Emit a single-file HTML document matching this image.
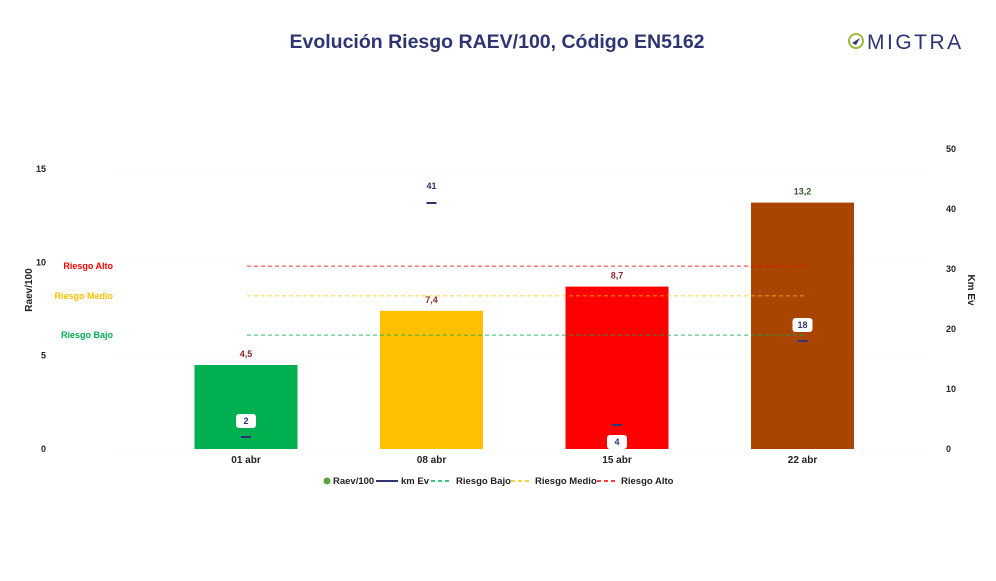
<!DOCTYPE html>
<html><head><meta charset="utf-8">
<style>
body{margin:0;background:#fff;font-family:"Liberation Sans","DejaVu Sans",sans-serif;}
svg text{font-family:"Liberation Sans","DejaVu Sans",sans-serif;}
</style></head>
<body>
<svg id="chart" width="996" height="576" viewBox="0 0 996 576" xmlns="http://www.w3.org/2000/svg">
<text x="497" y="48" text-anchor="middle" font-size="19.5" font-weight="bold" fill="#2e3572">Evolución Riesgo RAEV/100, Código EN5162</text>
<g>
<circle cx="856" cy="41" r="7" fill="none" stroke="#9cb83a" stroke-width="2"/>
<path d="M852 43 L860 38 L856 45 Z" fill="#2e3572"/>
<text x="867" y="49" font-size="21" fill="#2e3572" letter-spacing="2.5">MIGTRA</text>
</g>
<text x="32" y="290" font-size="10" font-weight="bold" fill="#222" transform="rotate(-90 32 290)" text-anchor="middle">Raev/100</text>
<text x="968" y="290" font-size="10" font-weight="bold" fill="#222" transform="rotate(90 968 290)" text-anchor="middle">Km Ev</text>
<g id="grid"></g><g id="bars"></g><g id="lines"></g><g id="marks"></g><g id="axes"></g>
<g font-size="9.5" font-weight="bold" fill="#222">
<g><circle cx="327" cy="481" r="3.5" fill="#5aa43a"/><text x="333" y="484">Raev/100</text></g>
<g><line x1="376" y1="481" x2="398" y2="481" stroke="#2e3572" stroke-width="2"/><text x="401" y="484">km Ev</text></g>
<g><line x1="431" y1="481" x2="452" y2="481" stroke="#00b050" stroke-width="1.5" stroke-dasharray="4 3"/><text x="456" y="484">Riesgo Bajo</text></g>
<g><line x1="511" y1="481" x2="531" y2="481" stroke="#ffc000" stroke-width="1.5" stroke-dasharray="4 3"/><text x="535" y="484">Riesgo Medio</text></g>
<g><line x1="597" y1="481" x2="617" y2="481" stroke="#ff0000" stroke-width="1.5" stroke-dasharray="4 3"/><text x="621" y="484">Riesgo Alto</text></g>
</g>
</svg>
<script>
const categories=["01 abr","08 abr","15 abr","22 abr"];
const raev=[4.5,7.4,8.7,13.2];
const raevLabels=["4,5","7,4","8,7","13,2"];
const barColors=["#00b050","#ffc000","#ff0000","#a94500"];
const kmEv=[2,41,4,18];
const leftTicks=[0,5,10,15];
const rightTicks=[0,10,20,30,40,50];
const riskNames=["Riesgo Bajo","Riesgo Medio","Riesgo Alto"];
const riskValues=[6.1,8.2,9.8];
const riskColors=["#00b050","#ffc000","#ff0000"];

const NS="http://www.w3.org/2000/svg";
const y0=449;
const yL=v=>y0-v*(280/15);
const yR=v=>y0-v*6;
const xC=i=>246+i*185.5;
const bw=103;
function mk(tag,attrs,parent,txt){const e=document.createElementNS(NS,tag);for(const k in attrs)e.setAttribute(k,attrs[k]);if(txt!==undefined)e.textContent=txt;document.getElementById(parent).appendChild(e);return e;}

leftTicks.forEach(t=>{
 const g=mk('line',{x1:115,x2:930,y1:yL(t),y2:yL(t),stroke:'#f0f0f0','stroke-width':1,'stroke-dasharray':'1 3'},'grid');
 
 
 const e=mk('text',{x:46,y:yL(t)+3,'font-size':9,'font-weight':'bold','text-anchor':'end',fill:'#222'},'axes',String(t));
 
 
});
rightTicks.forEach(t=>{
 const e=mk('text',{x:946,y:yR(t)+3,'font-size':9,'font-weight':'bold',fill:'#222'},'axes',String(t));
 
 
});
categories.forEach((c,i)=>{
 const b=mk('rect',{x:xC(i)-bw/2,y:yL(raev[i]),width:bw,height:y0-yL(raev[i]),fill:barColors[i]},'bars');
 
 
 const l=mk('text',{x:xC(i),y:yL(raev[i])-8,'font-size':9,'font-weight':'bold','text-anchor':'middle',fill:i==3?'#3a5a2a':'#8b2a2a'},'bars',raevLabels[i]);
 
 
 const x=mk('text',{x:xC(i),y:463,'font-size':10,'font-weight':'bold','text-anchor':'middle',fill:'#222'},'axes',c);
 
 
 const m=mk('line',{x1:xC(i)-5,x2:xC(i)+5,y1:yR(kmEv[i]),y2:yR(kmEv[i]),stroke:'#2e3572','stroke-width':2},'marks');
 
 
 let ly=yR(kmEv[i])-16;
 const boxed=raev[i]*(280/15)>(y0-yR(kmEv[i])+20);
 if(ly+7>y0) ly=y0-7;
 if(kmEv[i]===4) ly=y0-7;
 if(boxed){
  const r=mk('rect',{x:xC(i)-10,y:ly-7,width:20,height:14,rx:3,fill:'#fff'},'marks');
  
  
 }
 const t=mk('text',{x:xC(i),y:boxed?ly+3:yR(kmEv[i])-14,'font-size':9,'font-weight':'bold','text-anchor':'middle',fill:'#2e3572'},'marks',String(kmEv[i]));
 
 
});
riskValues.forEach((v,i)=>{
 const l=mk('line',{x1:247,x2:807,y1:yL(v),y2:yL(v),stroke:riskColors[i],'stroke-width':1,'stroke-dasharray':'4 3',opacity:0.8},'lines');
 
 
 const t=mk('text',{x:113,y:yL(v)+3,'font-size':9,'font-weight':'bold','text-anchor':'end',fill:riskColors[i]},'lines',riskNames[i]);
 
 
});
</script>
</body></html>
